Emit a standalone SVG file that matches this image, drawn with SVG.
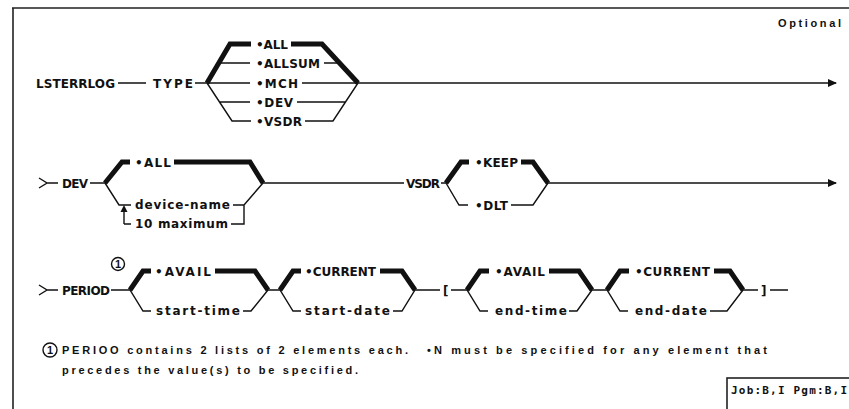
<svg xmlns="http://www.w3.org/2000/svg" width="849" height="409" viewBox="0 0 849 409">
<style>
.t{font-family:"DejaVu Sans","Liberation Sans",sans-serif;font-weight:bold;font-size:12px;fill:#111}
.f{font-family:"Liberation Sans","DejaVu Sans",sans-serif;font-weight:bold;font-size:11px;fill:#111}
.m{font-family:"DejaVu Sans Mono","Liberation Mono",monospace;font-weight:bold;font-size:11px;fill:#111}
.thin{stroke:#111;stroke-width:1.4;fill:none}
.thick{stroke:#111;stroke-width:5;fill:none;stroke-linejoin:miter}
.frame{stroke:#222;stroke-width:1.6;fill:none}
</style>
<defs>
<marker id="arr" markerWidth="10" markerHeight="8" refX="8" refY="4" orient="auto" markerUnits="userSpaceOnUse">
<path d="M0,0 L9,4 L0,8 Z" fill="#111"/>
</marker>
</defs>
<rect width="849" height="409" fill="#fff"/>
<g id="frame">
<path class="frame" d="M12,8 H849 M13,8 V409"/>
<rect class="frame" x="727" y="378" width="124" height="34"/>
</g>
<g id="connectors">
<path class="thin" d="M118,83 H146 M195,83 H207 M207,83 H250 M218,63 H250 M219,102 H250 M207,83 L232,121 H251"/>
<path class="thick" d="M207,83 L230,44 H251 M291,44 H322 L358,83"/>
<path class="thin" d="M302,83 H358 M324,63 H341 M297,102 H346 M305,121 H333 L358,83"/>
<path class="thin" d="M358,83 H836" marker-end="url(#arr)"/>
<path class="thin" d="M90,183 H105 M105,183 L119,205 H131 M124,224 V210 M124,224 H131 M233,205 H244 V224 H231 M244,205 L263,183 H404 M441,183 H446 M446,183 L459,205 H468 M511,205 H533 L548,183"/>
<path d="M124,205 L120.5,212 H127.5 Z" fill="#111"/>
<path class="thick" d="M105,183 L122,162 H130 M174,162 H250 L263,183 M446,183 L461,162 H469 M521,162 H533 L548,183"/>
<path class="thin" d="M548,183 H836" marker-end="url(#arr)"/>
<path class="thin" d="M39,285 L47,290 L39,295 M46,290 H58 M111,290 H130 L143,311 H151 M243,311 H251 L268,290 H280 L293,311 H301 M393,311 H402 L415,290 H440 M451,290 H467 L480,311 H488 M569,311 H577 L592,290 H607 L620,311 H628 M710,311 H727 L743,290 H758 M770,290 H788"/>
<path class="thick" d="M130,290 L143,271 H151 M215,271 H255 L268,290 M280,290 L293,271 H301 M380,271 H402 L415,290 M467,290 L480,271 H489 M549,271 H579 L592,290 M607,290 L620,271 H629 M714,271 H730 L743,290"/>
<path class="thin" d="M39,178 L47,183 L39,188 M46,183 H58"/>
</g>
<g id="node-lsterrlog"><text class="t" x="36" y="87.5" textLength="79" lengthAdjust="spacing">LSTERRLOG</text></g>
<g id="node-type"><text class="t" x="153" y="87.5" textLength="40" lengthAdjust="spacing">TYPE</text></g>
<g id="node-type-all"><text class="t" x="256" y="48.5" textLength="32" lengthAdjust="spacing">•ALL</text></g>
<g id="node-type-allsum"><text class="t" x="256" y="67.5" textLength="64" lengthAdjust="spacing">•ALLSUM</text></g>
<g id="node-type-mch"><text class="t" x="256" y="87.5" textLength="42" lengthAdjust="spacing">•MCH</text></g>
<g id="node-type-dev"><text class="t" x="256" y="106.5" textLength="37" lengthAdjust="spacing">•DEV</text></g>
<g id="node-type-vsdr"><text class="t" x="256" y="125.5" textLength="46" lengthAdjust="spacing">•VSDR</text></g>
<g id="node-optional"><text class="f" x="778" y="27" textLength="63" lengthAdjust="spacing">Optional</text></g>
<g id="node-dev"><text class="t" x="62" y="187.5" textLength="26" lengthAdjust="spacing">DEV</text></g>
<g id="node-dev-all"><text class="t" x="135" y="166.5" textLength="36" lengthAdjust="spacing">•ALL</text></g>
<g id="node-device-name"><text class="t" x="135" y="209" textLength="95" lengthAdjust="spacing">device-name</text></g>
<g id="node-10-maximum"><text class="t" x="135" y="228" textLength="93" lengthAdjust="spacing">10 maximum</text></g>
<g id="node-vsdr"><text class="t" x="406" y="187.5" textLength="34" lengthAdjust="spacing">VSDR</text></g>
<g id="node-keep"><text class="t" x="475" y="166.5" textLength="43" lengthAdjust="spacing">•KEEP</text></g>
<g id="node-dlt"><text class="t" x="475" y="209.5" textLength="33" lengthAdjust="spacing">•DLT</text></g>
<g id="node-period"><text class="t" x="62" y="294.5" textLength="48" lengthAdjust="spacing">PERIOD</text></g>
<g id="note-ref-1"><circle cx="118" cy="264" r="6.5" fill="none" stroke="#111" stroke-width="1.4"/><text class="f" x="118" y="268" text-anchor="middle" font-size="9">1</text></g>
<g id="node-start-avail"><text class="t" x="155" y="275.5" textLength="56" lengthAdjust="spacing">•AVAIL</text></g>
<g id="node-start-time"><text class="t" x="156" y="315" textLength="84" lengthAdjust="spacing">start-time</text></g>
<g id="node-start-current"><text class="t" x="305" y="275.5" textLength="71" lengthAdjust="spacing">•CURRENT</text></g>
<g id="node-start-date"><text class="t" x="305" y="315" textLength="85" lengthAdjust="spacing">start-date</text></g>
<g id="node-open-bracket"><text class="t" x="443" y="294.5">[</text></g>
<g id="node-end-avail"><text class="t" x="495" y="275.5" textLength="50" lengthAdjust="spacing">•AVAIL</text></g>
<g id="node-end-time"><text class="t" x="495" y="315" textLength="72" lengthAdjust="spacing">end-time</text></g>
<g id="node-end-current"><text class="t" x="635" y="275.5" textLength="75" lengthAdjust="spacing">•CURRENT</text></g>
<g id="node-end-date"><text class="t" x="635" y="315" textLength="72" lengthAdjust="spacing">end-date</text></g>
<g id="node-close-bracket"><text class="t" x="761" y="294.5">]</text></g>
<g id="footnote">
<circle cx="50" cy="350" r="7" fill="none" stroke="#111" stroke-width="1.4"/>
<text class="f" x="50" y="354" text-anchor="middle" font-size="10">1</text>
<text class="f" x="62" y="354" textLength="346" lengthAdjust="spacing">PERIOO contains 2 lists of 2 elements each.</text>
<text class="f" x="427" y="354" textLength="340" lengthAdjust="spacing">•N must be specified for any element that</text>
<text class="f" x="62" y="374" textLength="296" lengthAdjust="spacing">precedes the value(s) to be specified.</text>
</g>
<g id="node-job"><text class="m" x="731" y="394" textLength="116" lengthAdjust="spacing">Job:B,I Pgm:B,I</text></g>
</svg>
